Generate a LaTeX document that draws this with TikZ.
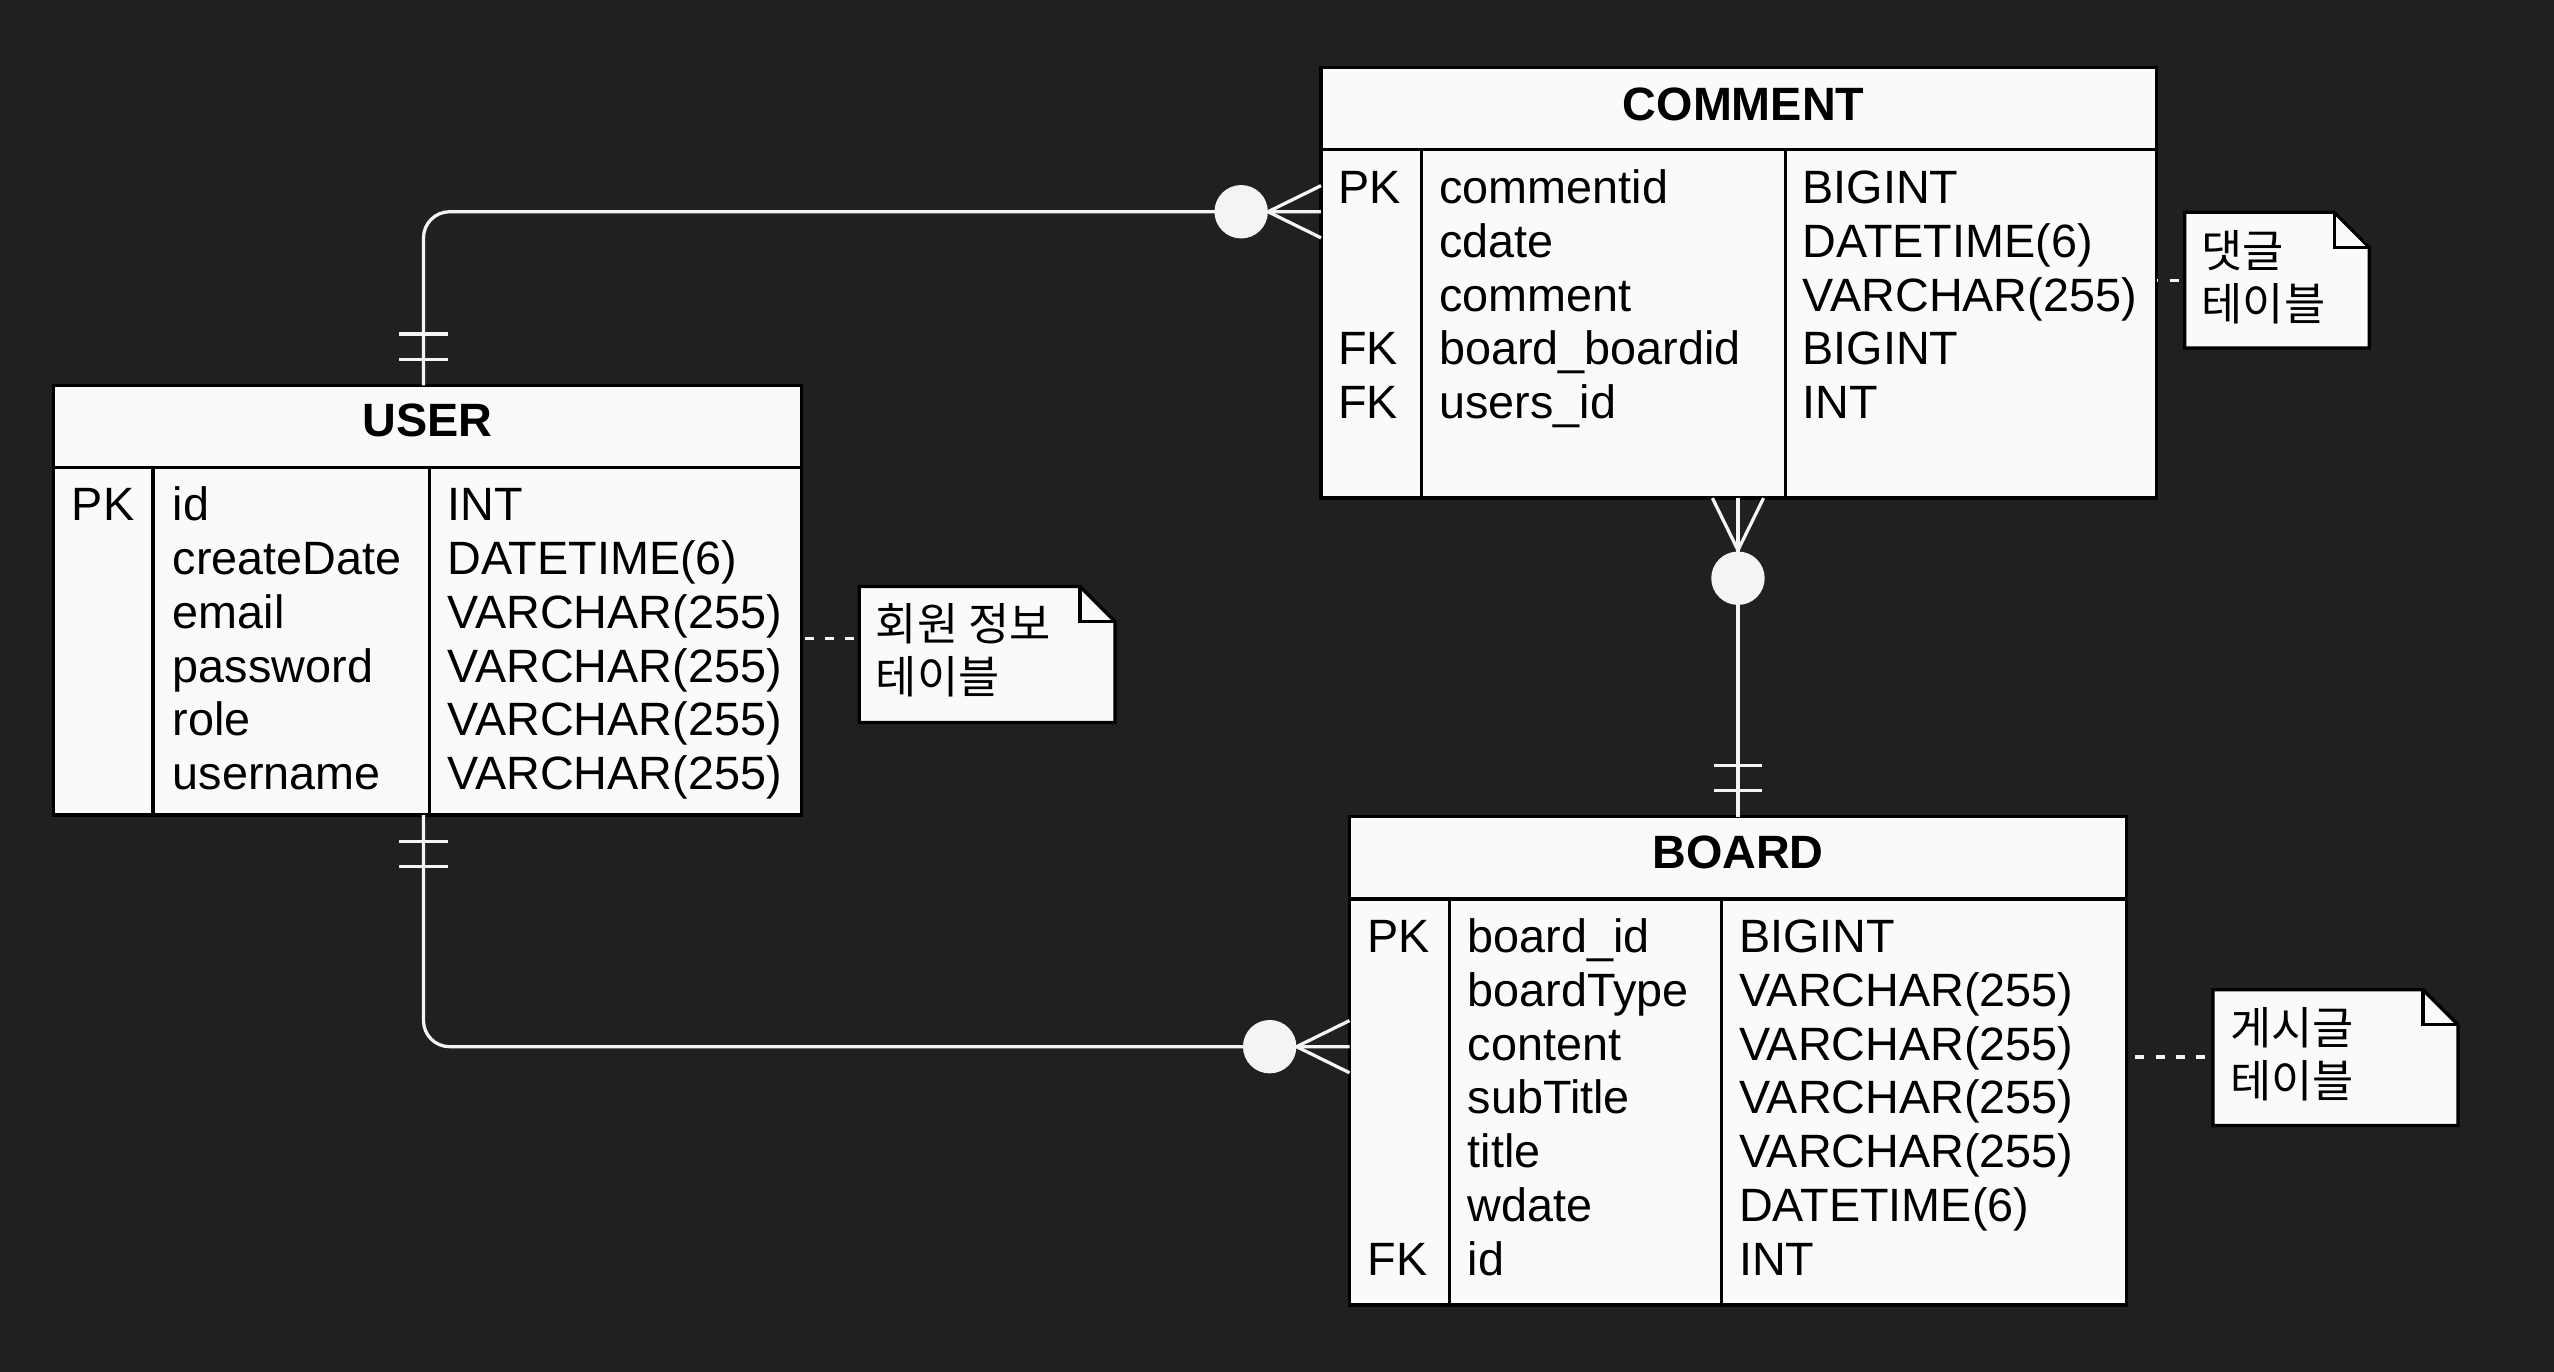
\documentclass[tikz,border=0pt]{standalone}
\usepackage{fontspec}
\setmainfont{Liberation Sans}
\newfontfamily\krfont{Noto Sans CJK KR}
\usetikzlibrary{calc}
\definecolor{bgcol}{HTML}{202020}
\definecolor{tfill}{HTML}{FAFAFA}
\definecolor{wline}{HTML}{F4F4F4}
\begin{document}
\begin{tikzpicture}[x=1pt,y=-1pt,
  tbl/.style={draw=black, line width=2pt, fill=tfill, rectangle, inner sep=0pt, outer sep=0pt, anchor=north west},
  sepline/.style={draw=black, line width=2pt},
  ttl/.style={font=\fontsize{28.7}{33}\selectfont\bfseries, anchor=base, inner sep=0pt},
  cell/.style={font=\fontsize{28.7}{33}\selectfont, anchor=base west, inner sep=0pt},
  notebox/.style={rectangle, inner sep=0pt, outer sep=0pt, anchor=north west},
  noteline/.style={draw=black, line width=2pt, fill=tfill, line join=miter},
  notetxt/.style={font=\krfont\fontsize{27.5}{33}\selectfont, anchor=base west, inner sep=0pt},
  conn/.style={draw=wline, line width=2pt},
  dashline/.style={draw=wline, line width=2pt, dash pattern=on 5.5pt off 7pt},
  dot/.style={circle, fill=wline, minimum size=32.8pt, inner sep=0pt, outer sep=0pt}
]
\fill[fill=bgcol] (0,0) rectangle (1568,842.3);
\useasboundingbox (0,0) rectangle (1568,842.3);

% ---------- COMMENT ----------
\node[tbl, minimum width=513pt, minimum height=264.3pt] (comment) at (811,41.5) {};
\draw[sepline] ([yshift=-50.5pt]comment.north west) -- ([yshift=-50.5pt]comment.north east);
\draw[sepline] ([xshift=61.5pt,yshift=-50.5pt]comment.north west) -- ([xshift=61.5pt]comment.south west);
\draw[sepline] ([xshift=285pt,yshift=-50.5pt]comment.north west) -- ([xshift=285pt]comment.south west);
\node[ttl] (comment-title) at (1070.5,74) {COMMENT};
\foreach \k/\n/\t [count=\i] in {PK/commentid/BIGINT,/cdate/DATETIME(6),/comment/VARCHAR(255),FK/board\_boardid/BIGINT,FK/users\_id/INT}{
  \node[cell] (comment-k\i) at (821.5,{92+33*\i}) {\k};
  \node[cell] (comment-n\i) at (883.5,{92+33*\i}) {\n};
  \node[cell] (comment-t\i) at (1106.5,{92+33*\i}) {\t};
}

% ---------- USER ----------
\node[tbl, minimum width=459pt, minimum height=263.8pt] (user) at (33,236.6) {};
\draw[sepline] ([yshift=-50.2pt]user.north west) -- ([yshift=-50.2pt]user.north east);
\draw[sepline] ([xshift=61pt,yshift=-50.2pt]user.north west) -- ([xshift=61pt]user.south west);
\draw[sepline] ([xshift=230.5pt,yshift=-50.2pt]user.north west) -- ([xshift=230.5pt]user.south west);
\node[ttl] (user-title) at (262.5,268) {USER};
\foreach \k/\n/\t [count=\i] in {PK/id/INT,/createDate/DATETIME(6),/email/VARCHAR(255),/password/VARCHAR(255),/role/VARCHAR(255),/username/VARCHAR(255)}{
  \node[cell] (user-k\i) at (44,{286.8+33*\i}) {\k};
  \node[cell] (user-n\i) at (106,{286.8+33*\i}) {\n};
  \node[cell] (user-t\i) at (274.5,{286.8+33*\i}) {\t};
}

% ---------- BOARD ----------
\node[tbl, minimum width=477pt, minimum height=299.7pt] (board) at (828.5,501.5) {};
\draw[sepline] ([yshift=-50.4pt]board.north west) -- ([yshift=-50.4pt]board.north east);
\draw[sepline] ([xshift=61.5pt,yshift=-50.4pt]board.north west) -- ([xshift=61.5pt]board.south west);
\draw[sepline] ([xshift=228.5pt,yshift=-50.4pt]board.north west) -- ([xshift=228.5pt]board.south west);
\node[ttl] (board-title) at (1067,533.5) {BOARD};
\foreach \k/\n/\t [count=\i] in {PK/board\_id/BIGINT,/boardType/VARCHAR(255),/content/VARCHAR(255),/subTitle/VARCHAR(255),/title/VARCHAR(255),/wdate/DATETIME(6),FK/id/INT}{
  \node[cell] (board-k\i) at (839.5,{551.9+33*\i}) {\k};
  \node[cell] (board-n\i) at (901,{551.9+33*\i}) {\n};
  \node[cell] (board-t\i) at (1067.5,{551.9+33*\i}) {\t};
}

% ---------- NOTES ----------
\node[notebox, minimum width=157pt, minimum height=83.6pt] (n1) at (527.5,360) {};
\node[notebox, minimum width=113.2pt, minimum height=83.4pt] (n2) at (1341.3,130.3) {};
\node[notebox, minimum width=150.3pt, minimum height=83.4pt] (n3) at (1358.7,607.6) {};
\foreach \nn in {n1,n2,n3}{
  \draw[noteline] (\nn.north west) -- ([xshift=-21.5pt]\nn.north east) -- ([yshift=-21.5pt]\nn.north east) -- (\nn.south east) -- (\nn.south west) -- cycle;
  \draw[draw=black, line width=2pt] ([xshift=-21.5pt]\nn.north east) |- ([yshift=-21.5pt]\nn.north east);
}
\node[notetxt] (n1-a) at (537.5,393) {회원 정보};
\node[notetxt] (n1-b) at (537.5,426) {테이블};
\node[notetxt] (n2-a) at (1351.5,164) {댓글};
\node[notetxt] (n2-b) at (1351.5,197) {테이블};
\node[notetxt] (n3-a) at (1369,641) {게시글};
\node[notetxt] (n3-b) at (1369,674) {테이블};

% dashed note links
\draw[dashline, dash phase=10.5pt] ([yshift=-23.5pt]user.east) -- ([yshift=-23.5pt]user.east -| n1.west);
\draw[dashline, dash phase=4.5pt] ([yshift=1.65pt]comment.east) -- ([yshift=1.65pt]comment.east -| n2.west);
\draw[dashline, dash phase=7.1pt] ([yshift=2.35pt]board.east) -- ([yshift=2.35pt]board.east -| n3.west);

% ---------- RELATIONSHIPS ----------
% USER -- COMMENT
\coordinate (utop) at ([xshift=-2.5pt]user.north);
\coordinate (cleft) at ([yshift=-88.5pt]comment.north west);
\draw[conn, rounded corners=16pt] (utop) |- (cleft);
\draw[conn] ($(utop)+(-15,-16)$) -- ($(utop)+(15,-16)$);
\draw[conn] ($(utop)+(-15,-31.5)$) -- ($(utop)+(15,-31.5)$);
\draw[conn] ($(cleft)+(0,-16)$) -- ($(cleft)+(-32.5,0)$) -- ($(cleft)+(0,16)$);
\node[dot] (dot1) at ($(cleft)+(-49,0)$) {};

% COMMENT -- BOARD
\coordinate (cbot) at (comment.south -| board.north);
\coordinate (btop) at (board.north);
\draw[conn] (cbot) -- (btop);
\draw[conn] ($(cbot)+(-15.7,0)$) -- ($(cbot)+(0,32)$) -- ($(cbot)+(15.7,0)$);
\node[dot] (dot2) at ($(cbot)+(0,49.2)$) {};
\draw[conn] ($(btop)+(-15,-16)$) -- ($(btop)+(15,-16)$);
\draw[conn] ($(btop)+(-15,-31.5)$) -- ($(btop)+(15,-31.5)$);

% USER -- BOARD
\coordinate (ubot) at ([xshift=-2.5pt]user.south);
\coordinate (bleft) at ([yshift=-141.1pt]board.north west);
\draw[conn, rounded corners=16pt] (ubot) |- (bleft);
\draw[conn] ($(ubot)+(-15,16)$) -- ($(ubot)+(15,16)$);
\draw[conn] ($(ubot)+(-15,31.5)$) -- ($(ubot)+(15,31.5)$);
\draw[conn] ($(bleft)+(0,-16)$) -- ($(bleft)+(-32.5,0)$) -- ($(bleft)+(0,16)$);
\node[dot] (dot3) at ($(bleft)+(-49,0)$) {};
\end{tikzpicture}
\end{document}
